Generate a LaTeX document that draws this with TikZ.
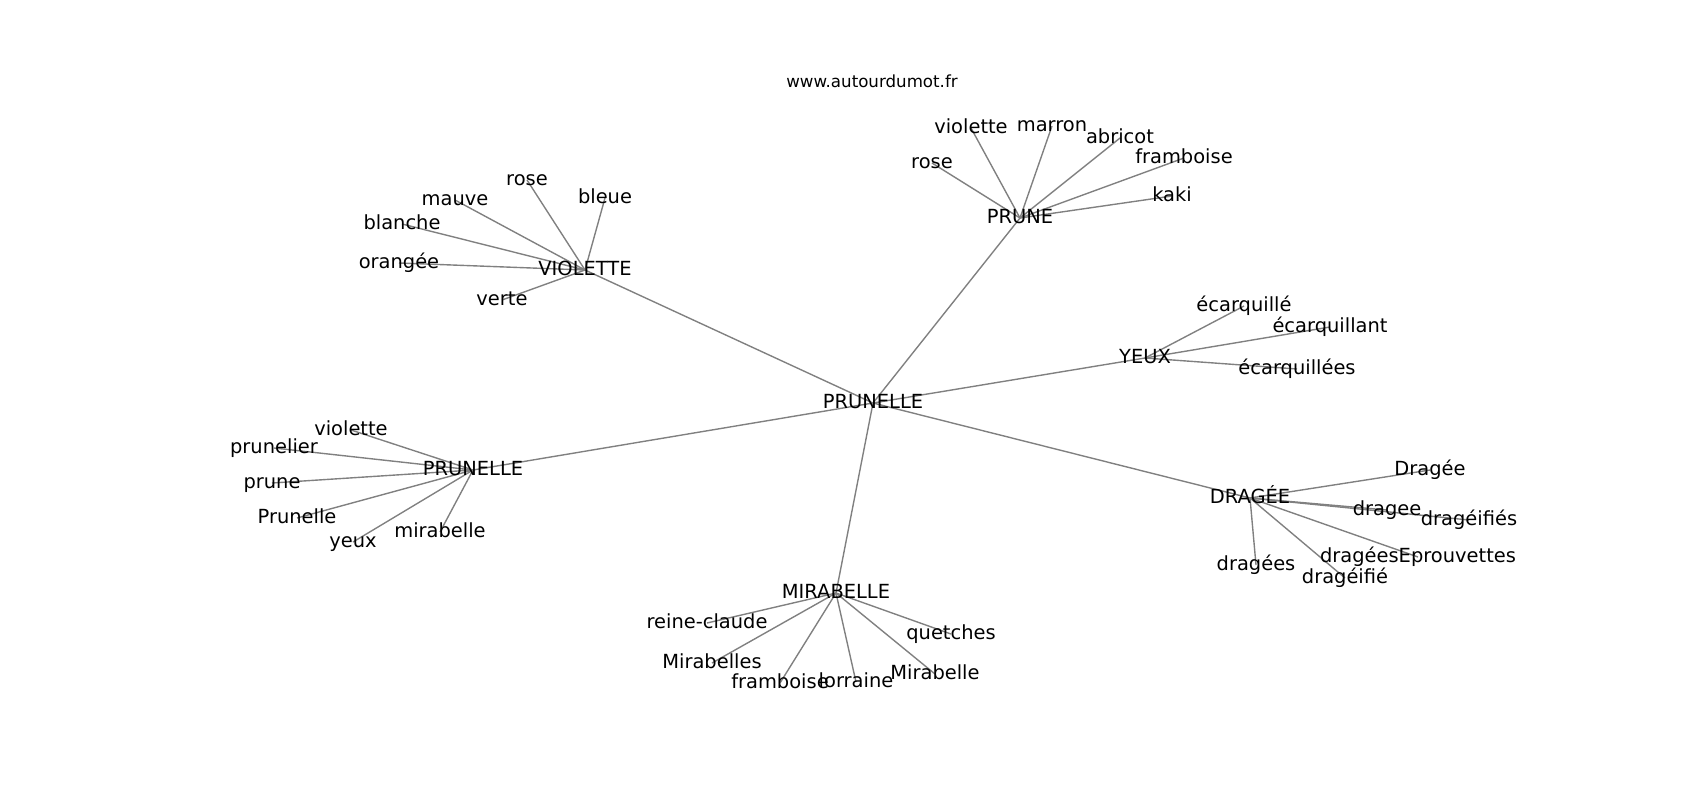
\documentclass[tikz,border=0pt]{standalone}
\usepackage{fontspec}
\setmainfont{DejaVu Sans}
\usetikzlibrary{backgrounds}

\begin{document}
\begin{tikzpicture}[x=0.72pt,y=-0.72pt,
    mot/.style={inner sep=0pt,text height=10.64pt,text depth=3.36pt,font=\fontsize{14}{17}\selectfont},
    arista/.style={draw=black!50,line width=1pt}]
    \useasboundingbox (0,0) rectangle (1700,800);

    % Titulo
    \node[anchor=base,font=\fontsize{12}{14}\selectfont] (titulo) at (872,87) {www.autourdumot.fr};

    % Centro y grupos
    \node[mot] (prunelle) at (873,403) {PRUNELLE};
    \node[mot] (viol) at (585,270) {VIOLETTE};
    \node[mot] (prune) at (1020,218) {PRUNE};
    \node[mot] (yeux) at (1145,358) {YEUX};
    \node[mot] (drag) at (1250,498) {DRAGÉE};
    \node[mot] (mira) at (836,593) {MIRABELLE};
    \node[mot] (prun) at (473,470) {PRUNELLE};

    % VIOLETTE
    \node[mot] (vrose) at (527,180) {rose};
    \node[mot] (vmauve) at (455,200) {mauve};
    \node[mot] (vbleue) at (605,198) {bleue};
    \node[mot] (vblanche) at (402,224) {blanche};
    \node[mot] (vorangee) at (399,263) {orangée};
    \node[mot] (vverte) at (502,300) {verte};

    % PRUNE
    \node[mot] (pviolette) at (971,128) {violette};
    \node[mot] (pmarron) at (1052,126) {marron};
    \node[mot] (pabricot) at (1120,138) {abricot};
    \node[mot] (pframb) at (1184,158) {framboise};
    \node[mot] (prose) at (932,163) {rose};
    \node[mot] (pkaki) at (1172,196) {kaki};

    % YEUX
    \node[mot] (yecarqa) at (1244,306) {écarquillé};
    \node[mot] (yecarqb) at (1330,327) {écarquillant};
    \node[mot] (yecarqc) at (1297,369) {écarquillées};

    % DRAGEE
    \node[mot] (dDragee) at (1430,470) {Dragée};
    \node[mot] (ddragee) at (1387,510) {dragee};
    \node[mot] (ddragfs) at (1469,520) {dragéifiés};
    \node[mot] (ddragees) at (1256,565) {dragées};
    \node[mot] (deprouv) at (1418,557) {dragéesEprouvettes};
    \node[mot] (ddragf) at (1345,578) {dragéifié};

    % MIRABELLE
    \node[mot] (mreine) at (707,623) {reine-claude};
    \node[mot] (mmiras) at (712,663) {Mirabelles};
    \node[mot] (mframb) at (780,683) {framboise};
    \node[mot] (mlorr) at (856,682) {lorraine};
    \node[mot] (mMira) at (935,674) {Mirabelle};
    \node[mot] (mquet) at (951,634) {quetches};

    % PRUNELLE (izq.)
    \node[mot] (lviolette) at (351,430) {violette};
    \node[mot] (lprunelier) at (274,448) {prunelier};
    \node[mot] (lprune) at (272,483) {prune};
    \node[mot] (lPrunelle) at (297,518) {Prunelle};
    \node[mot] (lyeux) at (353,542) {yeux};
    \node[mot] (lmira) at (440,532) {mirabelle};

    % Aristas
    \begin{scope}[on background layer]
        \foreach \n in {viol,prune,yeux,drag,mira,prun}
            \draw[arista] (prunelle.center) -- (\n.center);
        \foreach \n in {vrose,vmauve,vbleue,vblanche,vorangee,vverte}
            \draw[arista] (viol.center) -- (\n.center);
        \foreach \n in {pviolette,pmarron,pabricot,pframb,prose,pkaki}
            \draw[arista] (prune.center) -- (\n.center);
        \foreach \n in {yecarqa,yecarqb,yecarqc}
            \draw[arista] (yeux.center) -- (\n.center);
        \foreach \n in {dDragee,ddragee,ddragfs,ddragees,deprouv,ddragf}
            \draw[arista] (drag.center) -- (\n.center);
        \foreach \n in {mreine,mmiras,mframb,mlorr,mMira,mquet}
            \draw[arista] (mira.center) -- (\n.center);
        \foreach \n in {lviolette,lprunelier,lprune,lPrunelle,lyeux,lmira}
            \draw[arista] (prun.center) -- (\n.center);
    \end{scope}

\end{tikzpicture}
\end{document}
